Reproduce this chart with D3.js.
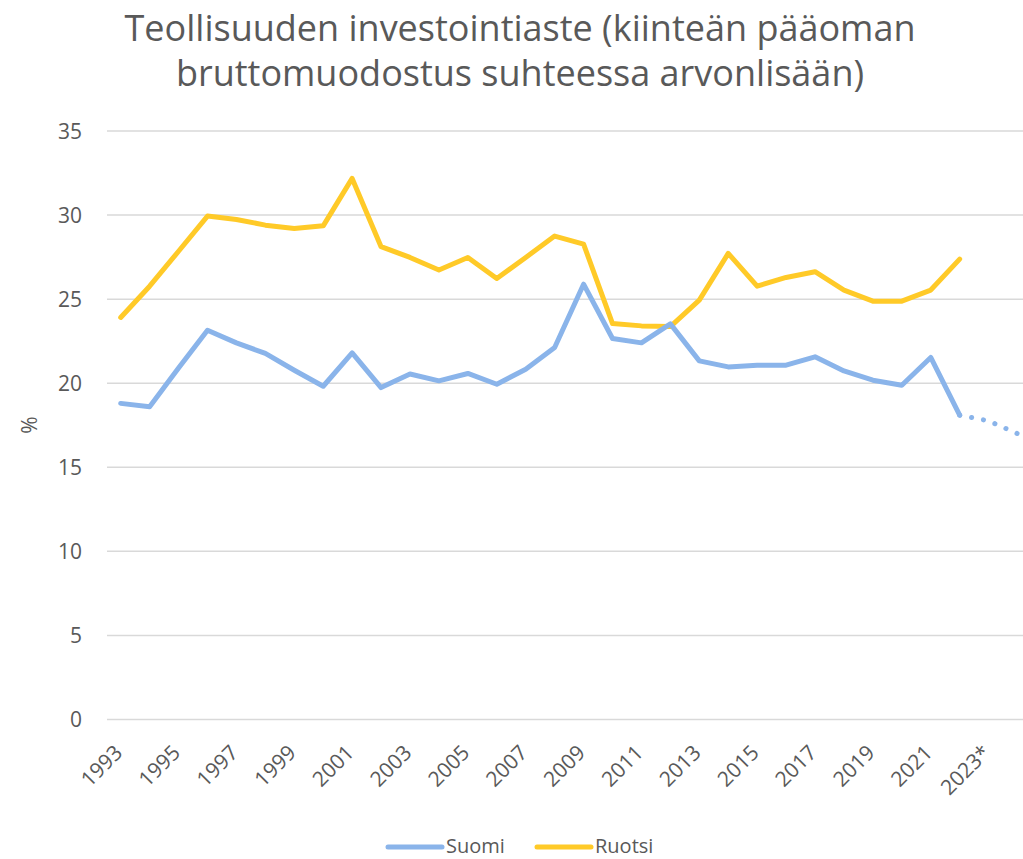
<!DOCTYPE html>
<html>
<head>
<meta charset="utf-8">
<script src="https://cdn.jsdelivr.net/npm/d3@7"></script>
<style>
  body { margin: 0; background: #fff; }
  text { font-family: "Open Sans", "Noto Sans", sans-serif; fill: #595959; }
</style>
</head>
<body>
<script>
// data
var years = d3.range(1993, 2025);
var yearLabels = years.map(function(y){ return y === 2023 ? '2023*' : String(y); });
var suomi = [18.8, 18.6, 20.9, 23.15, 22.4, 21.77, 20.77, 19.82, 21.8, 19.74,
             20.55, 20.14, 20.58, 19.94, 20.83, 22.12, 25.89, 22.66, 22.4, 23.53,
             21.33, 20.97, 21.07, 21.07, 21.57, 20.73, 20.18, 19.88, 21.53, 18.1,
             17.76, 17.0];
var ruotsi = [23.91, 25.77, 27.85, 29.94, 29.74, 29.4, 29.2, 29.36, 32.18, 28.12,
              27.48, 26.73, 27.48, 26.23, 27.48, 28.75, 28.27, 23.55, 23.41, 23.37,
              24.94, 27.72, 25.77, 26.29, 26.63, 25.54, 24.88, 24.88, 25.54, 27.38];
var yTicks = [0, 5, 10, 15, 20, 25, 30, 35];
var estimateFrom = 2022; // Suomi dotted after this year

var W = 1023, H = 859;
var svg = d3.select('body').append('svg').attr('width', W).attr('height', H);

var x = d3.scalePoint().domain(years).range([120.7, 120.7 + 31 * 28.93]);
var y = d3.scaleLinear().domain([0, 35]).range([719.5, 131]);

// title
svg.append('text').attr('x', 520).attr('y', 41).attr('text-anchor', 'middle')
   .style('font-size', '36px').text('Teollisuuden investointiaste (kiinteän pääoman');
svg.append('text').attr('x', 520).attr('y', 86).attr('text-anchor', 'middle')
   .style('font-size', '36px').text('bruttomuodostus suhteessa arvonlisään)');

// gridlines
svg.selectAll('.grid').data(yTicks).enter().append('line')
   .attr('x1', 107).attr('x2', W)
   .attr('y1', function(d){ return y(d); }).attr('y2', function(d){ return y(d); })
   .attr('stroke', '#d9d9d9').attr('stroke-width', 1.5);

// y axis labels
svg.selectAll('.ylab').data(yTicks).enter().append('text')
   .attr('x', 82).attr('y', function(d){ return y(d) + 7.5; })
   .attr('text-anchor', 'end').style('font-size', '21px')
   .text(function(d){ return d; });

svg.append('text').attr('transform', 'translate(37,425) rotate(-90)')
   .attr('text-anchor', 'middle').style('font-size', '21px').text('%');

// x axis labels (every other year)
svg.selectAll('.xlab').data(years.filter(function(d, i){ return i % 2 === 0; }))
   .enter().append('text')
   .attr('transform', function(d){ return 'translate(' + (x(d) + 3) + ',754) rotate(-45)'; })
   .attr('text-anchor', 'end').style('font-size', '21px')
   .text(function(d){ return yearLabels[years.indexOf(d)]; });

var line = d3.line()
   .x(function(d){ return x(d.year); })
   .y(function(d){ return y(d.v); });

var suomiPts = years.map(function(yr, i){ return {year: yr, v: suomi[i]}; });
var ruotsiPts = ruotsi.map(function(v, i){ return {year: years[i], v: v}; });

svg.append('path').datum(ruotsiPts).attr('d', line)
   .attr('fill', 'none').attr('stroke', '#ffca28').attr('stroke-width', 5)
   .attr('stroke-linejoin', 'round').attr('stroke-linecap', 'round');

svg.append('path').datum(suomiPts.filter(function(d){ return d.year <= estimateFrom; }))
   .attr('d', line)
   .attr('fill', 'none').attr('stroke', '#8ab4ea').attr('stroke-width', 5)
   .attr('stroke-linejoin', 'round').attr('stroke-linecap', 'round');

svg.append('path').datum(suomiPts.filter(function(d){ return d.year >= estimateFrom; }))
   .attr('d', line)
   .attr('fill', 'none').attr('stroke', '#8ab4ea').attr('stroke-width', 5)
   .attr('stroke-linecap', 'round').attr('stroke-dasharray', '0.1,12');

// legend
var legend = [{name: 'Suomi', color: '#8ab4ea', x: 388}, {name: 'Ruotsi', color: '#ffca28', x: 537}];
var lg = svg.selectAll('.lg').data(legend).enter().append('g');
lg.append('line').attr('x1', function(d){ return d.x; }).attr('x2', function(d){ return d.x + 54; })
  .attr('y1', 847).attr('y2', 847)
  .attr('stroke', function(d){ return d.color; }).attr('stroke-width', 5).attr('stroke-linecap', 'round');
lg.append('text').attr('x', function(d){ return d.x + 58; }).attr('y', 853)
  .style('font-size', '20px').text(function(d){ return d.name; });
</script>
</body>
</html>
